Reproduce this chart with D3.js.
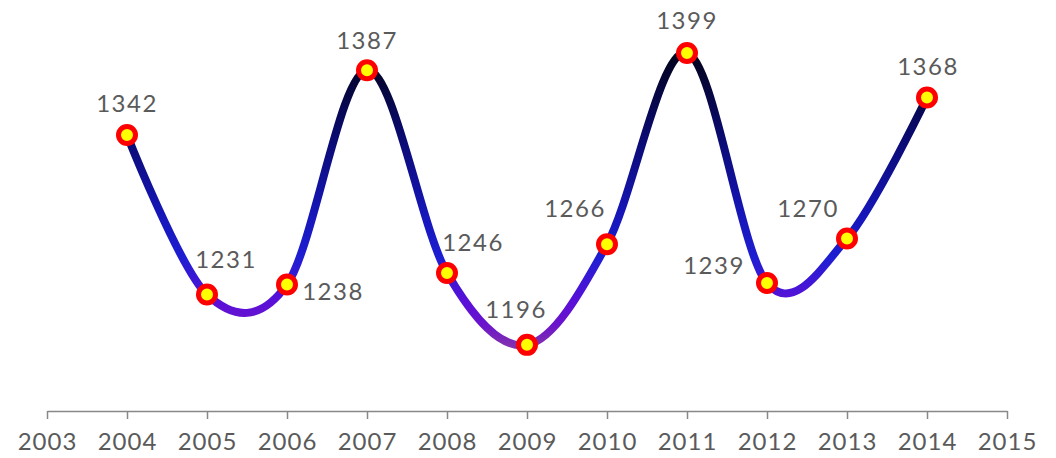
<!DOCTYPE html>
<html><head><meta charset="utf-8">
<script src="https://cdn.jsdelivr.net/npm/d3@7"></script>
<style>html,body{margin:0;padding:0;background:#fff;}svg{display:block;}</style>
</head><body><svg id="chart" width="1056" height="458"></svg>
<script>
const years = [2004, 2005, 2006, 2007, 2008, 2009, 2010, 2011, 2012, 2013, 2014];
const values = [1342, 1231, 1238, 1387, 1246, 1196, 1266, 1399, 1239, 1270, 1368];
const tickYears = [2003, 2004, 2005, 2006, 2007, 2008, 2009, 2010, 2011, 2012, 2013, 2014, 2015];
// label placement offsets (layout, not data)
const labelOffsets = [[0,-23],[19,-27],[46,16],[0,-21],[26,-22],[-11,-27],[-32,-27],[0,-24],[-53,-9],[-39,-21],[1,-23]];

const svg = d3.select("#chart");
const x = d3.scaleLinear().domain([2003, 2015]).range([47, 1007]);
const y = d3.scaleLinear().domain([1150, 1399]).range([411, 53]);
const font = "Lato, 'Open Sans', sans-serif";

const defs = svg.append("defs");
const grad = defs.append("linearGradient").attr("id","lg").attr("gradientUnits","userSpaceOnUse")
  .attr("x1",0).attr("x2",0).attr("y1",y(1399)).attr("y2",y(1196));
[[0,"#03031a"],[0.28,"#0a0a6e"],[0.55,"#1616b8"],[0.7,"#1e1ed2"],[0.85,"#5a10d8"],[0.93,"#6a14cc"],[1,"#8030b0"]]
  .forEach(([o,c]) => grad.append("stop").attr("offset",o).attr("stop-color",c));

// axis
const axis = d3.axisBottom(x).tickValues(tickYears).tickFormat(d3.format("d")).tickSize(8).tickSizeOuter(0).tickPadding(14);
const ag = svg.append("g").attr("transform","translate(0,411)").call(axis);
ag.select(".domain").attr("stroke","#888").attr("stroke-width",1.5);
ag.selectAll(".tick line").attr("stroke","#888").attr("stroke-width",1.5);
ag.selectAll(".tick text").attr("fill","#5a5a5a").style("font-family",font)
  .style("font-size","24px").style("letter-spacing","1px");

const data = years.map((yr,i)=>({yr, v: values[i], off: labelOffsets[i]}));
const line = d3.line().x(d=>x(d.yr)).y(d=>y(d.v)).curve(d3.curveCardinal.tension(0));
svg.append("path").datum(data).attr("d",line).attr("fill","none")
  .attr("stroke","url(#lg)").attr("stroke-width",8).attr("stroke-linecap","round");

svg.selectAll("circle.pt").data(data).join("circle").attr("class","pt")
  .attr("cx",d=>x(d.yr)).attr("cy",d=>y(d.v)).attr("r",8.5)
  .attr("fill","#ffff00").attr("stroke","#ff0000").attr("stroke-width",5);

svg.selectAll("text.lbl").data(data).join("text").attr("class","lbl")
  .attr("x",d=>x(d.yr)+d.off[0]).attr("y",d=>y(d.v)+d.off[1])
  .attr("text-anchor","middle").attr("fill","#5a5a5a")
  .style("font-family",font).style("font-size","24px").style("letter-spacing","1.5px")
  .text(d=>d.v);
</script></body></html>
